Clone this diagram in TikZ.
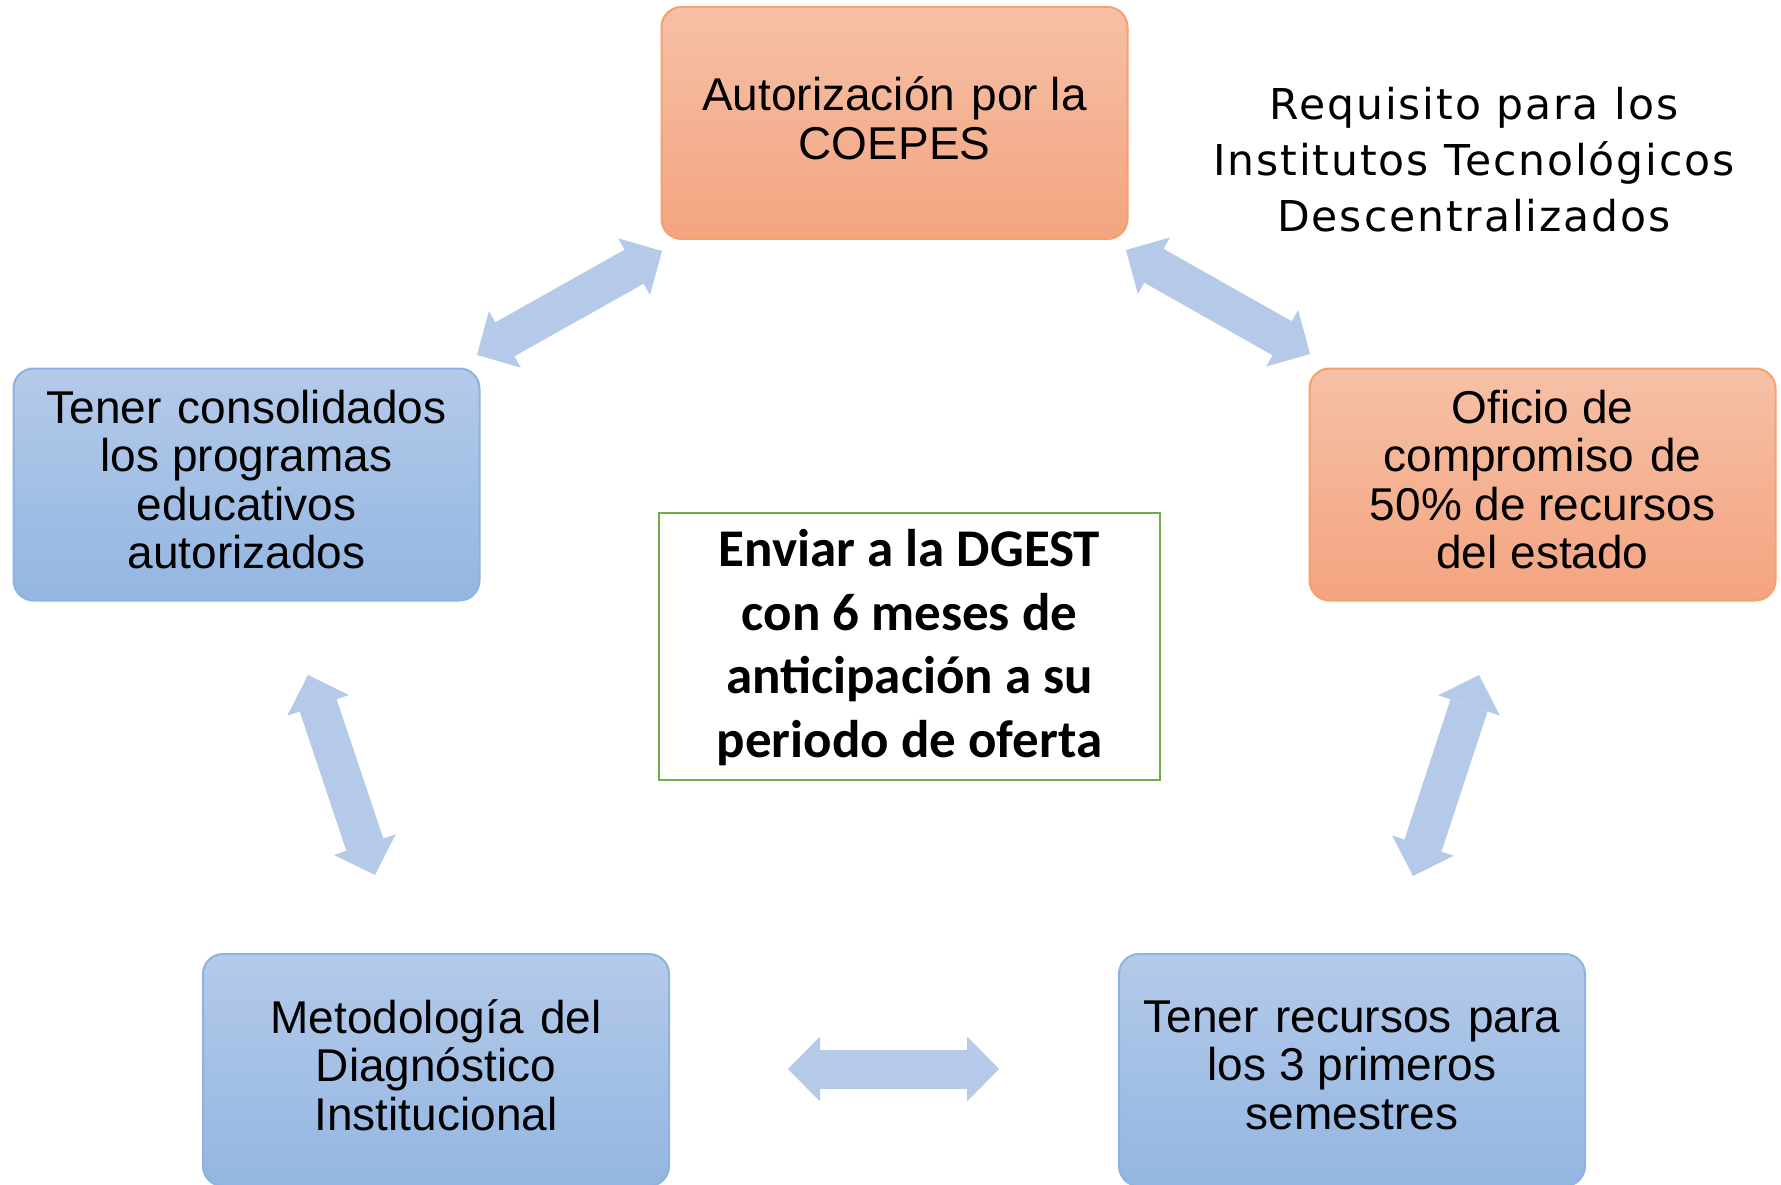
\documentclass[tikz,border=0pt]{standalone}
\usepackage{fontspec}
\setmainfont{Liberation Sans}
\newfontfamily\titlefont[LetterSpace=4.5]{DejaVu Sans}
\newfontfamily\calib{Carlito}
\usetikzlibrary{arrows.meta}
\definecolor{ortop}{RGB}{246,192,166}
\definecolor{orbot}{RGB}{244,164,128}
\definecolor{orbd}{RGB}{245,160,110}
\definecolor{bltop}{RGB}{180,202,233}
\definecolor{blbot}{RGB}{147,182,226}
\definecolor{blbd}{RGB}{140,178,225}
\definecolor{arrcol}{RGB}{181,202,232}
\definecolor{grbd}{RGB}{112,173,71}
\newcommand{\wsp}{\hspace{0.08em}}
\begin{document}
\begin{tikzpicture}[x=1pt,y=-1pt,
  boxbase/.style={rounded corners=20pt, line width=2pt, minimum width=466pt,
    minimum height=232pt, align=center, inner sep=0pt, text depth=10pt,
    font=\fontsize{46}{48.5}\selectfont},
  obox/.style={boxbase, draw=orbd, top color=ortop, bottom color=orbot},
  bbox/.style={boxbase, draw=blbd, top color=bltop, bottom color=blbot},
  cbox/.style={draw=grbd, line width=2.5pt, fill=white, minimum width=501pt,
    minimum height=267pt, align=center, inner sep=0pt, text depth=6pt,
    font=\calib\bfseries\fontsize{53}{63.5}\selectfont},
  titletext/.style={align=center, inner sep=0pt,
    font=\titlefont\fontsize{42.5}{56}\selectfont},
  blockarrow/.style={arrcol, line width=39pt,
    {Triangle[width=65pt,length=32pt,line width=0pt]}-{Triangle[width=65pt,length=32pt,line width=0pt]}}
]
\useasboundingbox (0,0) rectangle (1781,1185);
\clip (0,0) rectangle (1781,1185);

% boxes
\node[obox] (top) at (894.5,123) {Autorización\wsp{} por la\\COEPES};
\node[bbox] (left) at (246.5,484.5) {Tener\wsp{} consolidados\\los programas\\educativos\\autorizados};
\node[obox] (right) at (1542.5,484.5) {Oficio de\\compromiso\wsp{} de\\50\% de recursos\\del estado};
\node[bbox] (bl) at (436,1070) {Metodología\wsp{} del\\Diagnóstico\\Institucional};
\node[bbox] (br) at (1352,1070) {Tener\wsp{} recursos\wsp{} para\\los 3 primeros\\semestres};
\node[cbox] (center) at (909.5,646.5) {Enviar a la DGEST\\con 6 meses de\\anticipación a su\\periodo de oferta};
\node[titletext] (title) at (1474,160) {Requisito para los\\Institutos Tecnológicos\\Descentralizados};

% arrow end points
\coordinate (a1s) at (477,355);  \coordinate (a1e) at (662,251);
\coordinate (a2s) at (1126,250); \coordinate (a2e) at (1310,354);
\coordinate (a3s) at (308,675);  \coordinate (a3e) at (375,875);
\coordinate (a4s) at (1479,675); \coordinate (a4e) at (1413,876);
\coordinate (a5s) at (788,1069); \coordinate (a5e) at (999,1069);

\draw[blockarrow] (a1s) -- (a1e);
\draw[blockarrow] (a2s) -- (a2e);
\draw[blockarrow] (a3s) -- (a3e);
\draw[blockarrow] (a4s) -- (a4e);
\draw[blockarrow] (a5s) -- (a5e);
\end{tikzpicture}
\end{document}
